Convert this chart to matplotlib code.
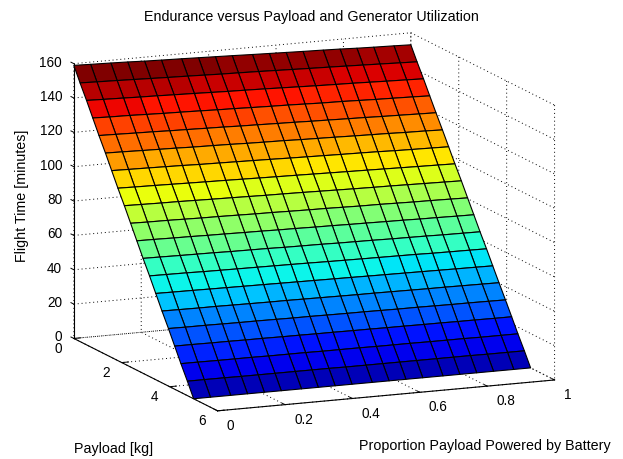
import numpy as np
import matplotlib
matplotlib.use('Agg')
import matplotlib.pyplot as plt
from matplotlib.colors import Normalize

plt.rcParams['font.family'] = ['Liberation Sans', 'DejaVu Sans']
plt.rcParams['grid.color'] = 'k'
plt.rcParams['grid.linestyle'] = (0, (1, 3))
plt.rcParams['grid.linewidth'] = 0.7

# values
proportion = [0, .05, .11, .16, .21, .26, .32, .37, .42, .47, .53, .58, .63, .68, .74, .79, .84, .89, .95, 1.0]
payload = [0, .26, .53, .79, 1.05, 1.32, 1.58, 1.84, 2.11, 2.37, 2.63, 2.89, 3.16, 3.42, 3.68, 3.95, 4.21, 4.47, 4.74, 5.0]
flight_time = [
    [159.0, 158.7, 158.4, 158.1, 157.7, 157.4, 157.1, 156.8, 156.5, 156.2, 155.8, 155.5, 155.2, 154.9, 154.6, 154.3, 153.9, 153.6, 153.3, 153.0],
    [150.6, 150.3, 150.0, 149.7, 149.4, 149.1, 148.8, 148.5, 148.2, 148.0, 147.7, 147.4, 147.1, 146.8, 146.5, 146.2, 145.9, 145.6, 145.2, 144.9],
    [142.3, 142.0, 141.7, 141.4, 141.2, 140.9, 140.6, 140.3, 140.0, 139.8, 139.5, 139.2, 138.9, 138.6, 138.3, 138.1, 137.8, 137.5, 137.2, 136.9],
    [133.9, 133.6, 133.4, 133.1, 132.8, 132.6, 132.3, 132.0, 131.8, 131.5, 131.2, 131.0, 130.7, 130.4, 130.2, 129.9, 129.6, 129.4, 129.1, 128.8],
    [125.5, 125.3, 125.0, 124.8, 124.5, 124.3, 124.0, 123.8, 123.5, 123.3, 123.0, 122.8, 122.5, 122.3, 122.0, 121.8, 121.5, 121.3, 121.0, 120.8],
    [117.2, 117.0, 116.7, 116.5, 116.3, 116.0, 115.8, 115.6, 115.3, 115.1, 114.9, 114.6, 114.4, 114.2, 113.9, 113.7, 113.5, 113.2, 113.0, 112.7],
    [108.8, 108.6, 108.4, 108.2, 108.0, 107.7, 107.5, 107.3, 107.1, 106.9, 106.6, 106.4, 106.2, 106.0, 105.8, 105.6, 105.3, 105.1, 104.9, 104.7],
    [100.4, 100.2, 100.0, 99.8, 99.6, 99.4, 99.2, 99.0, 98.8, 98.6, 98.4, 98.2, 98.0, 97.8, 97.6, 97.4, 97.2, 97.0, 96.8, 96.6],
    [92.1, 91.9, 91.7, 91.6, 91.4, 91.2, 91.0, 90.8, 90.6, 90.5, 90.3, 90.1, 89.9, 89.7, 89.5, 89.4, 89.2, 89.0, 88.8, 88.6],
    [83.7, 83.5, 83.4, 83.2, 83.0, 82.9, 82.7, 82.5, 82.4, 82.2, 82.0, 81.9, 81.7, 81.5, 81.4, 81.2, 81.0, 80.9, 80.7, 80.5],
    [75.3, 75.2, 75.0, 74.9, 74.7, 74.6, 74.4, 74.3, 74.1, 74.0, 73.8, 73.7, 73.5, 73.4, 73.2, 73.1, 72.9, 72.8, 72.6, 72.5],
    [66.9, 66.8, 66.6, 66.5, 66.4, 66.2, 66.1, 66.0, 65.8, 65.7, 65.6, 65.4, 65.3, 65.2, 65.0, 64.9, 64.8, 64.6, 64.5, 64.4],
    [58.6, 58.5, 58.4, 58.2, 58.1, 58.0, 57.9, 57.8, 57.7, 57.6, 57.4, 57.3, 57.2, 57.1, 57.0, 56.9, 56.7, 56.6, 56.5, 56.4],
    [50.2, 50.1, 50.0, 49.9, 49.8, 49.7, 49.6, 49.5, 49.4, 49.3, 49.2, 49.1, 49.0, 48.9, 48.8, 48.7, 48.6, 48.5, 48.4, 48.3],
    [41.8, 41.7, 41.6, 41.6, 41.5, 41.4, 41.3, 41.3, 41.2, 41.1, 41.0, 40.9, 40.9, 40.8, 40.7, 40.6, 40.6, 40.5, 40.4, 40.3],
    [33.5, 33.4, 33.4, 33.3, 33.2, 33.2, 33.1, 33.0, 33.0, 32.9, 32.8, 32.8, 32.7, 32.6, 32.6, 32.5, 32.4, 32.4, 32.3, 32.2],
    [25.1, 25.1, 25.0, 25.0, 24.9, 24.9, 24.8, 24.8, 24.7, 24.7, 24.6, 24.6, 24.5, 24.5, 24.4, 24.4, 24.3, 24.3, 24.2, 24.2],
    [16.7, 16.7, 16.6, 16.6, 16.6, 16.5, 16.5, 16.5, 16.4, 16.4, 16.4, 16.3, 16.3, 16.3, 16.2, 16.2, 16.2, 16.1, 16.1, 16.1],
    [8.4, 8.4, 8.4, 8.3, 8.3, 8.3, 8.3, 8.3, 8.3, 8.2, 8.2, 8.2, 8.2, 8.2, 8.2, 8.2, 8.2, 8.1, 8.1, 8.1],
    [0.0] * 20,
]
x_ticks = [0, 0.2, 0.4, 0.6, 0.8, 1]
y_ticks = [0, 2, 4, 6]
z_ticks = [0, 20, 40, 60, 80, 100, 120, 140, 160]

fig = plt.figure(figsize=(6.23, 4.59), dpi=100)
ax = fig.add_axes([78.5 / 623, 1.5 / 459, 459 / 623, 1.0], projection='3d', proj_type='ortho')
ax.patch.set_visible(False)
ax.view_init(elev=12.4, azim=-113.1)
ax.set_box_aspect((1, 1, 0.768), zoom=1.247)

X, Y = np.meshgrid(proportion, payload)
Z = np.array(flight_time)
jet = plt.get_cmap('jet', 64)
face = jet(Normalize(Z.min(), Z.max())(Z))
surf = ax.plot_surface(X, Y, Z, facecolors=face, rstride=1, cstride=1, shade=False,
                       edgecolor='k', linewidth=0.8, antialiased=True)
# axes box starts right of the surface's left corner
surf.set_clip_on(False)

ax.set_xlim(0, 1)
ax.set_ylim(6, 0)
ax.set_zlim(0, 160)
ax.set_xticks(x_ticks)
ax.set_yticks(y_ticks)
ax.set_zticks(z_ticks)
ax.set_xticklabels(['0', '0.2', '0.4', '0.6', '0.8', '1'], ha='left', va='bottom')
ax.set_yticklabels(['0', '2', '4', '6'], ha='right', va='center')
ax.set_zticklabels(z_ticks, ha='right', va='center')

for axis in (ax.xaxis, ax.yaxis, ax.zaxis):
    axis.pane.set_facecolor('none')
    axis.pane.set_edgecolor('none')
    axis.line.set_color('k')
    axis.line.set_linewidth(0.8)
    axis._axinfo['tick']['inward_factor'] = 0.0
    axis._axinfo['tick']['outward_factor'] = 0.25
    axis._axinfo['tick']['linewidth'] = {True: 0.7, False: 0.5}
ax.zaxis.set_ticks_position('lower')
ax.tick_params(axis='x', labelsize=9.8, pad=3)
ax.tick_params(axis='y', labelsize=9.8, pad=-2)
ax.tick_params(axis='z', labelsize=9.8, pad=-3.8)

fig.text(311 / 623, 1 - 17 / 459, 'Endurance versus Payload and Generator Utilization', ha='center', va='center', fontsize=10.3)
fig.text(22 / 623, 1 - 196 / 459, 'Flight Time [minutes]', ha='center', va='center', rotation=90, fontsize=10.3)
fig.text(114 / 623, 1 - 449 / 459, 'Payload [kg]', ha='center', va='center', fontsize=10.3)
fig.text(485 / 623, 1 - 446 / 459, 'Proportion Payload Powered by Battery', ha='center', va='center', fontsize=10.3)

fig.savefig('out.png', dpi=100)
